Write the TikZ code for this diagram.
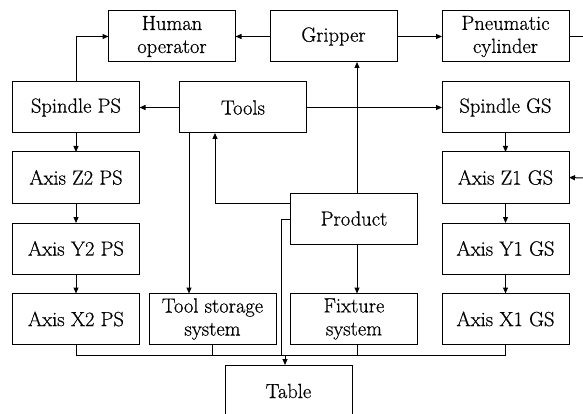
\documentclass[tikz,border=0pt]{standalone}
\usepackage{fontspec}
\newfontfamily\boxfont{Latin Modern Roman}[FakeBold=0.6]
\usetikzlibrary{arrows.meta,calc}
\begin{document}
\begin{tikzpicture}[x=1pt,y=-1pt,
  box/.style={draw, line width=1pt, rectangle, minimum width=127pt, minimum height=51pt,
    inner sep=1pt, outer sep=0pt, align=center,
    font=\boxfont\fontsize{20.5}{23}\selectfont},
  conn/.style={line width=1pt},
  arr/.style={line width=1pt, -{Triangle[length=6pt,width=5pt]}}]
\useasboundingbox (0,0) rectangle (583,414);
% nodes
\node[box] (human) at (172,36.5) {Human\\operator};
\node[box] (gripper) at (333.5,36.5) {Gripper};
\node[box] (pneu) at (505.5,36.5) {Pneumatic\\cylinder};
\node[box] (spps) at (76,107.5) {Spindle PS};
\node[box] (tools) at (243,107.5) {Tools};
\node[box] (spgs) at (505.5,107.5) {Spindle GS};
\node[box] (z2) at (76,177.5) {Axis Z2 PS};
\node[box] (y2) at (76,248.5) {Axis Y2 PS};
\node[box] (x2) at (76,319) {Axis X2 PS};
\node[box] (z1) at (505.5,177.5) {Axis Z1 GS};
\node[box] (y1) at (505.5,248.5) {Axis Y1 GS};
\node[box] (x1) at (505.5,319) {Axis X1 GS};
\node[box] (product) at (354,218.5) {Product};
\node[box] (ts) at (212.5,319) {Tool storage\\system};
\node[box] (fix) at (354,319) {Fixture\\system};
\node[box, minimum height=53pt] (table) at (288.5,391.5) {};
\node[font=\boxfont\fontsize{20.5}{23}\selectfont] (tablelabel) at (288.5,391) {Table};
\coordinate (outR) at (583,36.5);
\coordinate (inR) at (583,178);
\coordinate (bus) at (288.5,355);
% connectors top
\draw[arr] (spps.north) |- (human.west);
\draw[arr] (gripper.west) -- (human.east);
\draw[arr] (gripper.east) -- (pneu.west);
\draw[conn] (pneu.east) -- (outR);
\draw[arr] (tools.west) -- (spps.east);
\draw[arr] (tools.east) -- (spgs.west);
\draw[arr] ([xshift=3pt]product.north) -- ([xshift=3pt]product.north |- gripper.south);
\draw[arr] ([yshift=15.5pt]product.west) -| ([xshift=-28pt]tools.south);
\draw[arr] ([xshift=-54pt]tools.south) -- ([xshift=-54pt]tools.south |- ts.north);
\draw[arr] ([xshift=3pt]product.south) -- ([xshift=3pt]product.south |- fix.north);
% columns
\draw[arr] (spps.south) -- (z2.north);
\draw[arr] (z2.south) -- (y2.north);
\draw[arr] (y2.south) -- (x2.north);
\draw[arr] (spgs.south) -- (z1.north);
\draw[arr] (z1.south) -- (y1.north);
\draw[arr] (y1.south) -- (x1.north);
\draw[arr] (inR) -- (z1.east);
% bus
\draw[conn] (x2.south) -- (x2.south |- bus) -- (x1.south |- bus) -- (x1.south);
\draw[conn] (ts.south) -- (ts.south |- bus);
\draw[conn] ([xshift=3pt]fix.south) -- ([xshift=3pt]fix.south |- bus);
\draw[conn] ([yshift=-1pt]product.west) -| ([xshift=-7.5pt]table.north |- bus);
\draw[arr] ([xshift=-3.5pt]table.north |- bus) -- ([xshift=-3.5pt]table.north);
\end{tikzpicture}
\end{document}
